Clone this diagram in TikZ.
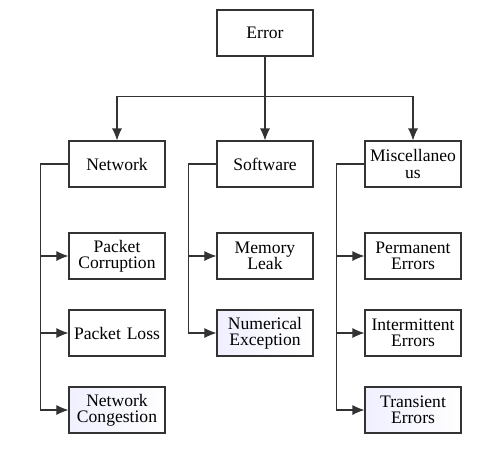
\documentclass[tikz,border=0pt]{standalone}
\usepackage{fontspec}
\setmainfont{Liberation Serif}
\usepackage{xcolor}
\usepackage{tikz}
\usetikzlibrary{shapes,arrows,arrows.meta}

\begin{document}
\begin{tikzpicture}[auto, node distance=2.96cm,>={Latex[length=2.4mm,width=2mm]}]
    \tikzstyle{block} = [rectangle, draw=black!80, line width=0.6pt, fill=white,
        text width=1.85cm, align=center, minimum width=1.92cm, minimum height=0.92cm,
        font=\fontsize{10}{9.2}\selectfont, inner sep=1pt]
    \tikzstyle{tinted} = [block, left color=blue!6, right color=white]
    \tikzstyle{line} = [draw=black!80, line width=0.6pt, ->]

    \useasboundingbox (0,0) rectangle (10,-9.08);

    \node [block] (error) at (5.3,-0.66) {Error};
    \node [block, below of=error, node distance=2.62cm] (software) {Software};
    \node [block, left of=software] (network) {Network};
    \node [block, right of=software] (misc) {Miscellaneo\\us};

    % network branch
    \node [block, below of=network, node distance=1.84cm] (corrupt) {Packet\\Corruption};
    \node [block, below of=corrupt, node distance=1.54cm] (loss) {Packet Loss};
    \node [tinted, below of=loss, node distance=1.54cm] (congest) {Network\\Congestion};

    % software branch
    \node [block, below of=software, node distance=1.84cm] (leak) {Memory\\Leak};
    \node [tinted, below of=leak, node distance=1.54cm] (numeric) {Numerical\\Exception};

    % misc branch
    \node [block, below of=misc, node distance=1.84cm] (perm) {Permanent\\Errors};
    \node [block, below of=perm, node distance=1.54cm] (inter) {Intermittent\\Errors};
    \node [tinted, below of=inter, node distance=1.54cm] (trans) {Transient\\Errors};

    \path [line] (error.south) -- (software.north);
    \path [line] (error.south) -- ++(0,-0.8) -| (network.north);
    \path [line] (error.south) -- ++(0,-0.8) -| (misc.north);

    \path [line] (network.west) -- ++(-0.56,0) |- (corrupt.west);
    \path [line] (network.west) -- ++(-0.56,0) |- (loss.west);
    \path [line] (network.west) -- ++(-0.56,0) |- (congest.west);

    \path [line] (software.west) -- ++(-0.56,0) |- (leak.west);
    \path [line] (software.west) -- ++(-0.56,0) |- (numeric.west);

    \path [line] (misc.west) -- ++(-0.56,0) |- (perm.west);
    \path [line] (misc.west) -- ++(-0.56,0) |- (inter.west);
    \path [line] (misc.west) -- ++(-0.56,0) |- (trans.west);
\end{tikzpicture}
\end{document}
